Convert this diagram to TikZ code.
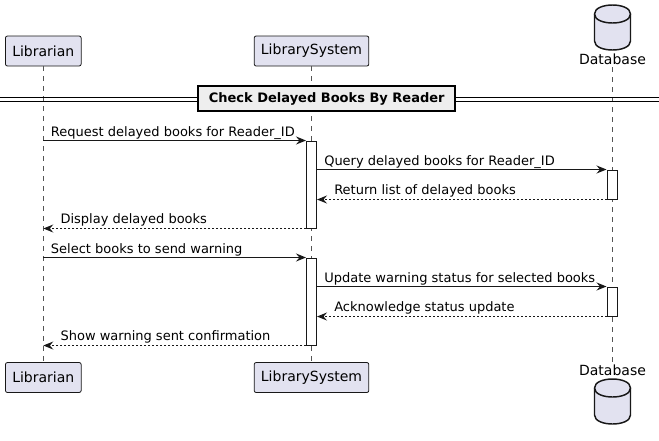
\documentclass[tikz,border=0pt]{standalone}
\usepackage{fontspec}
\setmainfont{DejaVu Sans}
\usetikzlibrary{arrows.meta}
\definecolor{pbg}{HTML}{E2E2F0}
\definecolor{pline}{HTML}{181818}
\definecolor{divbg}{HTML}{EEEEEE}
\definecolor{lifegray}{HTML}{555555}
\begin{document}
\begin{tikzpicture}[x=0.75pt,y=-0.75pt,
  part/.style={draw=pline, fill=pbg, rounded corners=1.5pt, line width=0.6pt,
    minimum height=22.5pt, inner sep=0pt, font=\fontsize{10.5pt}{12pt}\selectfont},
  dblabel/.style={inner sep=0pt, font=\fontsize{10.5pt}{12pt}\selectfont},
  cyl/.style={draw=pline, fill=pbg, line width=1.1pt},
  lifeline/.style={draw=lifegray, line width=0.5pt, dash pattern=on 3.75pt off 3.75pt},
  actbox/.style={draw=pline, fill=white, line width=0.75pt, minimum width=7.5pt, inner sep=0pt},
  msg/.style={draw=pline, line width=0.75pt, -{Stealth[length=7.5pt, width=6pt, inset=2.6pt]}},
  ret/.style={msg, dash pattern=on 1.5pt off 1.5pt},
  lab/.style={anchor=base west, inner sep=0pt, font=\fontsize{9.75pt}{12pt}\selectfont},
  divbox/.style={draw=black, fill=divbg, line width=1.5pt, minimum width=192.5pt,
    minimum height=18.75pt, inner sep=0pt, font=\fontsize{9.75pt}{12pt}\selectfont\bfseries}
]
\useasboundingbox (0,0) rectangle (659,440);

% participants (top)
\node[part, minimum width=56.8pt] (libT) at (43.3,51) {Librarian};
\node[part, minimum width=86pt] (sysT) at (311.5,51) {LibrarySystem};
% participants (bottom)
\node[part, minimum width=56.8pt] (libB) at (43.3,377.5) {Librarian};
\node[part, minimum width=86pt] (sysB) at (311.5,377.5) {LibrarySystem};

% database top
\path[cyl] (594.5,14) -- (594.5,41) .. controls (594.5,53) and (630.5,53) .. (630.5,41)
  -- (630.5,14) .. controls (630.5,2) and (594.5,2) .. cycle;
\draw[cyl, fill=none] (594.5,14) .. controls (594.5,26) and (630.5,26) .. (630.5,14);
\node[dblabel] (dbT) at (612.5,59.3) {Database};
% database bottom
\path[cyl] (594.5,388) -- (594.5,415) .. controls (594.5,427) and (630.5,427) .. (630.5,415)
  -- (630.5,388) .. controls (630.5,376) and (594.5,376) .. cycle;
\draw[cyl, fill=none] (594.5,388) .. controls (594.5,400) and (630.5,400) .. (630.5,388);
\node[dblabel] (dbB) at (612.5,370) {Database};

\coordinate (dbTl) at (612,67);
\coordinate (dbBl) at (612,363);

% lifelines
\draw[lifeline] (libT.south) -- (libB.north);
\draw[lifeline] (sysT.south) -- (sysB.north);
\draw[lifeline] (dbTl) -- (dbBl);

% divider
\coordinate (divL1) at (0,97);
\coordinate (divR1) at (659,97);
\coordinate (divL2) at (0,101);
\coordinate (divR2) at (659,101);
\draw[line width=0.75pt] (divL1) -- (divR1);
\draw[line width=0.75pt] (divL2) -- (divR2);
\node[divbox] (div) at (326.7,98.5) {Check Delayed Books By Reader};

% activations
\node[actbox, minimum height=65.25pt] (act1) at (311.5,184.5) {};
\node[actbox, minimum height=65.25pt] (act2) at (311.5,301.5) {};
\node[actbox, minimum height=21.75pt] (dba1) at (612,184.5) {};
\node[actbox, minimum height=21.75pt] (dba2) at (612,301.5) {};

% messages block 1
\draw[msg] (libT.south |- act1.north west) -- (act1.north west);
\node[lab] (m1) at (50.7,136) {Request delayed books for Reader\_ID};
\draw[msg] (act1.east |- dba1.north west) -- (dba1.north west);
\node[lab] (m2) at (324,165) {Query delayed books for Reader\_ID};
\draw[ret] (dba1.south west) -- (act1.east |- dba1.south west);
\node[lab] (m3) at (334,194) {Return list of delayed books};
\draw[ret] (act1.south west) -- (libT.south |- act1.south west);
\node[lab] (m4) at (60.3,223) {Display delayed books};

% messages block 2
\draw[msg] (libT.south |- act2.north west) -- (act2.north west);
\node[lab] (m5) at (50.7,253) {Select books to send warning};
\draw[msg] (act2.east |- dba2.north west) -- (dba2.north west);
\node[lab] (m6) at (324,282) {Update warning status for selected books};
\draw[ret] (dba2.south west) -- (act2.east |- dba2.south west);
\node[lab] (m7) at (334,311) {Acknowledge status update};
\draw[ret] (act2.south west) -- (libT.south |- act2.south west);
\node[lab] (m8) at (60.3,340) {Show warning sent confirmation};
\end{tikzpicture}
\end{document}
